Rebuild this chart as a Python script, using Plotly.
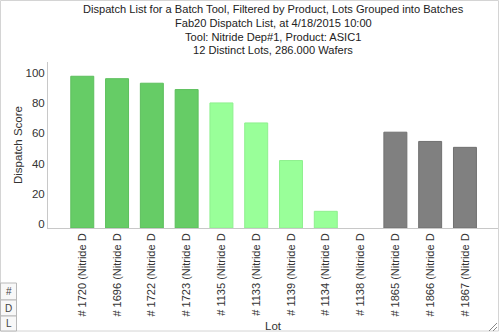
import plotly.graph_objects as go

lots = ["# 1720 (Nitride D", "# 1696 (Nitride D", "# 1722 (Nitride D", "# 1723 (Nitride D",
        "# 1135 (Nitride D", "# 1133 (Nitride D", "# 1139 (Nitride D", "# 1134 (Nitride D",
        "# 1138 (Nitride D", "# 1865 (Nitride D", "# 1866 (Nitride D", "# 1867 (Nitride D"]
scores = [97.6, 96.0, 93.0, 88.8, 80.0, 66.8, 42.0, 8.5, None, 60.7, 54.6, 50.7]
bar_colors = ["#66CC66"] * 4 + ["#99FF99"] * 5 + ["#808080"] * 3
edge_colors = ["#5cbf5c"] * 4 + ["#8ef08e"] * 5 + ["#707070"] * 3
y_ticks = [0, 20, 40, 60, 80, 100]

title_lines = ["Dispatch List for a Batch Tool, Filtered by Product, Lots Grouped into Batches",
               "Fab20 Dispatch List, at 4/18/2015 10:00",
               "Tool: Nitride Dep#1, Product: ASIC1",
               "12 Distinct Lots, 286.000 Wafers"]

Y_MIN, Y_MAX = -2.5, 107.0
FONT = "Liberation Sans, Arial, sans-serif"

# plot-area geometry in pixels (for overlay decorations)
L, R, T, B = 48, 498, 62, 228
W, H = 500, 333


def px(x):
    return (x - L) / (R - L)


def py(y):
    return (B - y) / (B - T)


heights = [None if v is None else v - Y_MIN for v in scores]

fig = go.Figure(go.Bar(
    x=lots, y=heights, base=Y_MIN, width=0.66,
    marker=dict(color=bar_colors, line=dict(color=edge_colors, width=1)),
    customdata=scores, hovertemplate="%{x}<br>%{customdata}<extra></extra>",
))

fig.update_layout(
    width=W, height=H,
    margin=dict(l=L, r=W - R, t=T, b=H - B),
    paper_bgcolor="white", plot_bgcolor="white",
    font=dict(family=FONT, size=11, color="#333333"),
    showlegend=False,
    xaxis=dict(type="category", range=[-0.985, 11.95], tickangle=-90, showgrid=False,
               showline=True, linecolor="#c8c8c8", linewidth=1, ticks="",
               tickfont=dict(size=11, color="#333333"),
               title=dict(text="Lot", standoff=6, font=dict(size=11.5, color="#333333"))),
    yaxis=dict(range=[Y_MIN, Y_MAX], tickvals=y_ticks, showgrid=False, zeroline=False,
               showline=True, linecolor="#c8c8c8", linewidth=1, ticks="",
               tickfont=dict(size=11.5, color="#333333"),
               title=dict(text="Dispatch Score", standoff=0, font=dict(size=11.5, color="#333333"))),
)

annotations = []
# title lines
title_y = [9, 23, 37, 50]
for line, yc in zip(title_lines, title_y):
    annotations.append(dict(text=line, xref="paper", yref="paper", x=px(273), y=py(yc),
                            xanchor="center", yanchor="middle", showarrow=False,
                            font=dict(size=11.1, color="#222222")))

shapes = []
# outer frame
shapes.append(dict(type="rect", xref="paper", yref="paper", x0=px(0.5), x1=px(498.5),
                   y0=py(0.5), y1=py(331), line=dict(color="#d4d4d4", width=1)))
# small legend-like boxes bottom-left
box_y = [283, 300, 316, 331]
labels = ["#", "D", "L"]
for i, lab in enumerate(labels):
    shapes.append(dict(type="rect", xref="paper", yref="paper", x0=px(0.5), x1=px(16.5),
                       y0=py(box_y[i]), y1=py(box_y[i + 1]),
                       line=dict(color="#b8b8b8", width=1), fillcolor="#f8f8f8"))
    annotations.append(dict(text=lab, xref="paper", yref="paper", x=px(8.5),
                            y=py((box_y[i] + box_y[i + 1]) / 2), showarrow=False,
                            xanchor="center", yanchor="middle",
                            font=dict(size=10, color="#444444")))
# resize grip bottom-right
for d in (4, 8):
    shapes.append(dict(type="line", xref="paper", yref="paper", x0=px(497 - d), y0=py(331),
                       x1=px(497), y1=py(331 - d), line=dict(color="#888888", width=1)))

fig.update_layout(shapes=shapes, annotations=annotations)
fig.write_html("out.html")
